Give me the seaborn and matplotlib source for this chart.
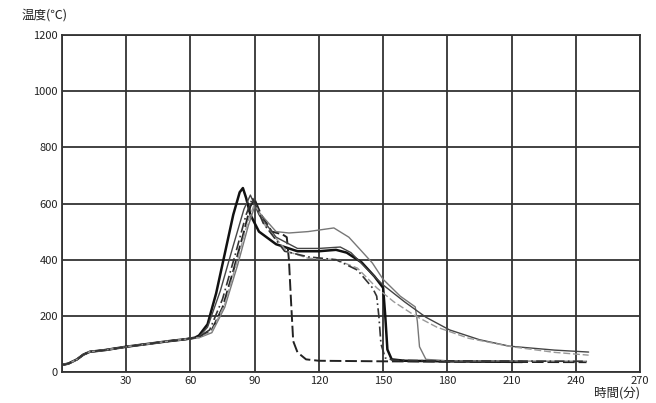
import matplotlib
matplotlib.use("Agg")
import matplotlib.pyplot as plt
import seaborn as sns
import pandas as pd

# shared heating start (min, deg C)
t_start = [0, 3, 7, 10, 13, 20, 30, 40, 50, 58, 62]
T_start = [25, 30, 45, 62, 72, 78, 90, 100, 110, 117, 122]

# each thermocouple after the start segment
t_a = [64, 68, 72, 76, 80, 83, 84.5, 86, 88, 92, 100, 110, 120, 128, 133, 140, 146, 150, 151, 152, 154, 160, 180, 215]
T_a = [130, 170, 280, 420, 560, 640, 655, 620, 560, 500, 455, 430, 430, 435, 425, 390, 340, 300, 200, 80, 45, 40, 38, 36]

t_b = [64, 70, 75, 80, 85, 88, 90, 93, 98, 103, 105, 106, 107, 108, 110, 114, 120, 150, 200, 245]
T_b = [125, 150, 230, 360, 500, 590, 615, 560, 500, 490, 480, 400, 250, 110, 70, 45, 40, 38, 36, 35]

t_c = [64, 70, 76, 82, 87, 90, 93, 100, 106, 115, 127, 134, 140, 145, 150, 158, 165, 166, 167, 170, 180, 245]
T_c = [122, 140, 230, 380, 520, 590, 560, 500, 495, 500, 513, 480, 430, 388, 330, 270, 232, 180, 90, 45, 40, 38]

t_d = [64, 68, 74, 80, 85, 88, 92, 100, 110, 120, 130, 135, 142, 150, 160, 170, 181, 195, 209, 230, 246]
T_d = [125, 160, 290, 450, 580, 630, 560, 480, 440, 440, 445, 425, 370, 310, 250, 195, 150, 115, 92, 78, 71]

t_e = [64, 70, 76, 82, 87, 90, 95, 105, 115, 128, 138, 147, 155, 165, 175, 190, 210, 230, 246]
T_e = [122, 145, 240, 400, 540, 600, 520, 430, 405, 400, 370, 300, 250, 200, 160, 120, 90, 70, 60]

t_f = [64, 69, 75, 81, 86, 89, 94, 104, 115, 128, 138, 145, 147, 148, 149, 151, 155, 170, 245]
T_f = [125, 150, 260, 420, 560, 620, 530, 430, 410, 400, 363, 300, 270, 200, 100, 50, 42, 40, 38]

curves = {"a": (t_a, T_a), "b": (t_b, T_b), "c": (t_c, T_c),
          "d": (t_d, T_d), "e": (t_e, T_e), "f": (t_f, T_f)}
styles = {"a": ("#111111", 1.8, "-"), "b": ("#222222", 1.4, (0, (6, 2))),
          "c": ("#777777", 1.0, "-"), "d": ("#444444", 1.0, "-"),
          "e": ("#999999", 1.0, (0, (5, 2))), "f": ("#333333", 1.2, (0, (6, 2, 1, 2)))}

rows = []
for name, (tt, TT) in curves.items():
    for t, T in zip(t_start + tt, T_start + TT):
        rows.append((name, t, T))
data = pd.DataFrame(rows, columns=["tc", "time", "temp"])

sns.set_theme(style="white")
plt.rcParams["font.family"] = ["Noto Sans CJK JP", "DejaVu Sans"]

fig = plt.figure(figsize=(6.56, 4.03), dpi=100)
ax = fig.add_axes([62 / 656, 1 - 372 / 403, 578 / 656, 337 / 403])

for name in curves:
    c, lw, ls = styles[name]
    sns.lineplot(data=data[data["tc"] == name], x="time", y="temp", ax=ax,
                 color=c, linewidth=lw, linestyle=ls, sort=False, estimator=None)

ax.set_xlim(0, 270)
ax.set_ylim(0, 1200)
ax.set_xticks(range(0, 271, 30))
ax.set_xticklabels([""] + [str(v) for v in range(30, 271, 30)])
ax.set_yticks(range(0, 1201, 200))
ax.set_yticklabels([str(v) for v in range(0, 1201, 200)])
ax.grid(True, color="#333333", linewidth=1.3)
for s in ax.spines.values():
    s.set_color("#333333")
    s.set_linewidth(1.3)
ax.tick_params(axis="both", labelsize=8, length=0, pad=3, colors="#222222")
ax.set_xlabel("")
ax.set_ylabel("")

fig.text(22 / 656, 1 - 15 / 403, "温度(℃)", fontsize=9, va="center", ha="left", color="#222222")
fig.text(640 / 656, 1 - 393 / 403, "時間(分)", fontsize=9, va="center", ha="right", color="#222222")

fig.savefig("out.png", dpi=100)
